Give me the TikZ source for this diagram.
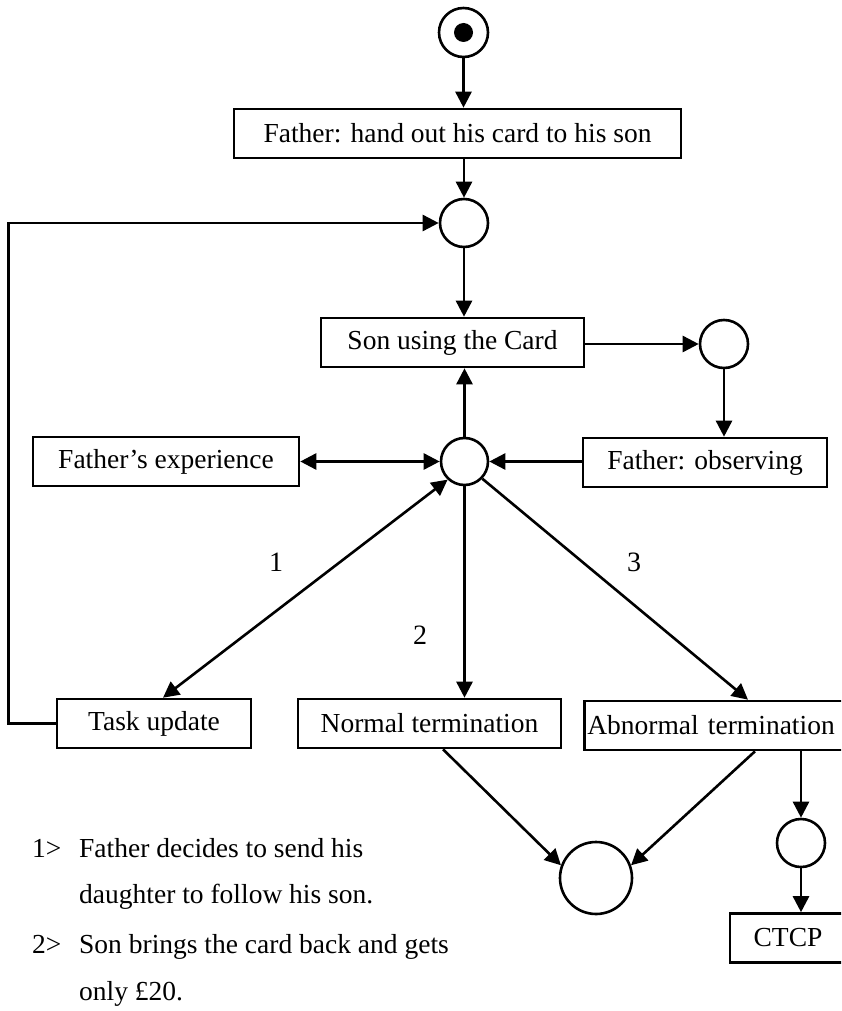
\documentclass[tikz,border=0pt]{standalone}
\usepackage{fontspec}
\setmainfont{Liberation Serif}
\usetikzlibrary{arrows.meta,calc}

\tikzset{
  tip/.tip={Triangle[length=16pt,width=16pt]},
  flow/.style={line width=2.6pt,-tip},
  twoway/.style={line width=2.6pt,tip-tip},
  box/.style={draw,line width=2.6pt,rectangle,minimum height=49pt,inner sep=0pt,
              font=\fontsize{27.5}{32}\selectfont},
  place/.style={draw,line width=2.6pt,circle,minimum size=48pt,inner sep=0pt},
  lbl/.style={font=\fontsize{28}{32}\selectfont,inner sep=0pt},
  note/.style={font=\fontsize{27.5}{32}\selectfont,anchor=base west,inner sep=0pt},
}

\begin{document}
\begin{tikzpicture}[x=1pt,y=-1pt]
\useasboundingbox (0,0) rectangle (841,1011);
\clip (0,0) rectangle (841,1011);

% places and transitions
\node[place,minimum size=49pt] (start) at (463.5,32.5) {};
\fill (start.center) circle (9.5pt);

\node[box,minimum width=447pt] (b1) at (457.5,133.5) {Father: hand out his card to his son};
\node[place] (p1) at (464,223) {};
\node[box,minimum width=263pt] (b2) at (452.5,342.5) {Son using the Card};
\node[place] (p2) at (724,344) {};
\node[box,minimum width=244pt] (fobs) at (705,462.5) {Father: observing};
\node[place,minimum size=47pt] (p3) at (464.5,461.5) {};
\node[box,minimum width=266pt] (fexp) at (166,461.5) {Father's experience};

\node[box,minimum width=194pt] (tu) at (154,723.5) {Task update};
\node[box,minimum width=263pt] (norm) at (429.5,723.5) {Normal termination};
\node[box,anchor=west,inner xsep=3pt,text width=290pt,align=left] (abn) at (583,725.5) {Abnormal termination};

\node[place] (p4) at (801,843) {};
\node[box,minimum width=116pt] (ctcp) at (788,938) {CTCP};
\node[place,minimum size=72pt] (p5) at (596,878) {};

% branch labels
\node[lbl] (l1) at (276,562) {1};
\node[lbl] (l2) at (420,635) {2};
\node[lbl] (l3) at (634,562) {3};

% connectors
\draw[flow] (start.south) -- (start.south |- b1.north);
\draw[flow] (p1 |- b1.south) -- (p1.north);
\draw[flow] (p1.south) -- (p1.south |- b2.north);
\draw[flow] (b2.east |- p2) -- (p2.west);
\draw[flow] (p2.south) -- (p2.south |- fobs.north);
\draw[flow] (fobs.west |- p3) -- (p3.east);
\draw[twoway] (fexp.east) -- (p3.west);
\draw[flow] (p3.north) -- (p3.north |- b2.south);
\draw[twoway] ([xshift=9pt]tu.north) -- (p3.227);
\draw[flow] (p3.south) -- (p3.south |- norm.north);
\draw[flow] (p3.-44) -- ([xshift=165pt]abn.north west);
\draw[flow] (tu.west) -- ++(-47,0) |- (p1.west);
\draw[flow] ([xshift=13.5pt]norm.south) -- (p5.160);
\draw[flow] ([xshift=172pt]abn.south west) -- (p5.20);
\draw[flow] (p4 |- abn.south) -- (p4.north);
\draw[flow] (p4.south) -- (p4.south |- ctcp.north);

% legend
\node[note] (k1) at (32,857) {1>};
\node[note] (k1a) at (79,857) {Father decides to send his};
\node[note] (k1b) at (79,903) {daughter to follow his son.};
\node[note] (k2) at (32,953) {2>};
\node[note] (k2a) at (79,953) {Son brings the card back and gets};
\node[note] (k2b) at (79,1000) {only £20.};
\end{tikzpicture}
\end{document}
